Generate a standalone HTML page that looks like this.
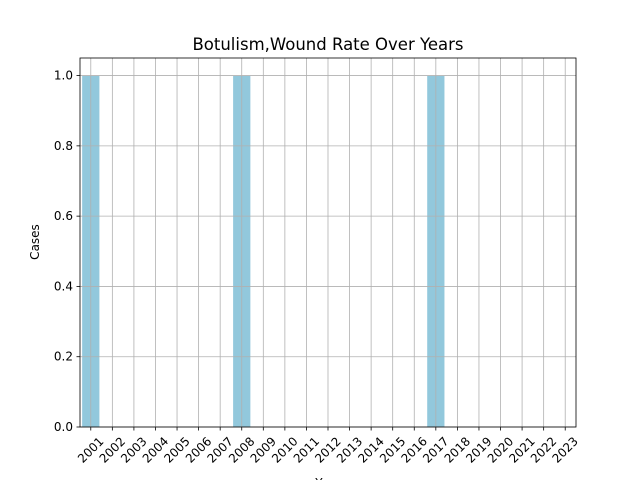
<!DOCTYPE html>
<html><head><meta charset="utf-8"><style>
body{margin:0;background:#fff}
svg text{font-family:"DejaVu Sans","Liberation Sans",sans-serif;fill:#000}
</style></head><body>
<svg id="chart" width="640" height="480"></svg>
<script>
const categories=["2001","2002","2003","2004","2005","2006","2007","2008","2009","2010","2011","2012","2013","2014","2015","2016","2017","2018","2019","2020","2021","2022","2023"];
const values=[1,0,0,0,0,0,0,1,0,0,0,0,0,0,0,0,1,0,0,0,0,0,0];
const yTicks=[0,0.2,0.4,0.6,0.8,1.0];
const yTickLabels=["0.0","0.2","0.4","0.6","0.8","1.0"];
const NS="http://www.w3.org/2000/svg";
const svg=document.getElementById('chart');
const L=80,R=576,T=58,B=427,yMax=1.05;
const n=categories.length;
const bw=(R-L)/n;
function xS(i){return L+(i+0.5)*bw;}
function yS(v){return B-(v/yMax)*(B-T);}
function mk(tag,attrs,parent){const e=document.createElementNS(NS,tag);for(const k in attrs)e.setAttribute(k,attrs[k]);(parent||svg).appendChild(e);return e;}
values.forEach((v,i)=>{
 const r=mk('rect',{x:xS(i)-bw*0.4,y:yS(v),width:bw*0.8,height:B-yS(v),fill:'#92c8dc'});
 
 
});
categories.forEach((c,i)=>{
 const g=mk('line',{x1:xS(i),x2:xS(i),y1:T,y2:B,stroke:'#b0b0b0','stroke-width':0.8});
 
 
 mk('line',{x1:xS(i),x2:xS(i),y1:B,y2:B+3.5,stroke:'#000','stroke-width':0.8});
 const t=mk('text',{x:xS(i),y:450,'font-size':12,'text-anchor':'middle','dominant-baseline':'central',transform:`rotate(-45 ${xS(i)} 450)`});
 t.textContent=c;
 
 
});
yTicks.forEach((v,i)=>{
 const g=mk('line',{x1:L,x2:R,y1:yS(v),y2:yS(v),stroke:'#b0b0b0','stroke-width':0.8});
 
 
 mk('line',{x1:L-3.5,x2:L,y1:yS(v),y2:yS(v),stroke:'#000','stroke-width':0.8});
 const t=mk('text',{x:L-7,y:yS(v)+4,'font-size':12,'text-anchor':'end'});
 t.textContent=yTickLabels[i];
 
 
});
const f=mk('rect',{x:L,y:T,width:R-L,height:B-T,fill:'none',stroke:'#000','stroke-width':0.8});


const ti=mk('text',{x:(L+R)/2,y:50,'font-size':16.5,'text-anchor':'middle'});
ti.textContent='Botulism,Wound Rate Over Years';


const yl=mk('text',{x:39,y:242,'font-size':12,'text-anchor':'middle',transform:'rotate(-90 39 242)'});
yl.textContent='Cases';


const xl=mk('text',{x:(L+R)/2,y:487,'font-size':12,'text-anchor':'middle'});
xl.textContent='Year';


</script>
</body></html>
